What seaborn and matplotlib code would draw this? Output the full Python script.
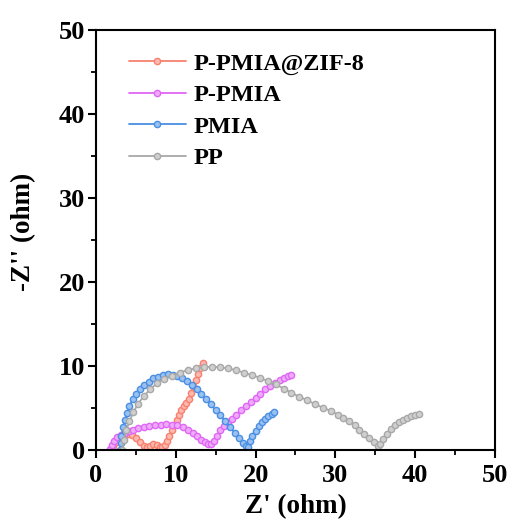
import numpy as np
import pandas as pd
import matplotlib
matplotlib.use("Agg")
import matplotlib.pyplot as plt
import seaborn as sns
from matplotlib.ticker import MultipleLocator

# Nyquist data: Z' (ohm) and -Z'' (ohm) for each separator
zif_x = [2.0, 2.2, 2.5, 2.8, 3.2, 3.6, 4.0, 4.5, 5.0, 5.5, 6.0, 6.4, 6.8, 7.2, 7.6, 8.0,
         8.3, 8.6, 8.9, 9.2, 9.5, 9.8, 10.1, 10.4, 10.7, 11.0, 11.3, 11.6, 11.9, 12.2,
         12.5, 12.8, 13.1, 13.4]
zif_y = [0.0, 0.5, 0.9, 1.3, 1.6, 1.8, 1.85, 1.75, 1.4, 0.9, 0.5, 0.3, 0.5, 0.7, 0.6, 0.35,
         0.3, 0.6, 1.0, 1.6, 2.3, 3.0, 3.6, 4.2, 4.7, 5.2, 5.6, 6.0, 6.8, 7.6,
         8.3, 9.0, 9.7, 10.4]

ppmia_x = [1.8, 2.0, 2.3, 2.7, 3.1, 3.6, 4.1, 4.7, 5.3, 6.0, 6.7, 7.4, 8.1, 8.8, 9.5, 10.2,
           10.9, 11.5, 12.1, 12.7, 13.2, 13.7, 14.1, 14.4, 14.8, 15.2, 15.6, 16.0, 16.5,
           17.0, 17.6, 18.2, 18.8, 19.4, 20.0, 20.6, 21.2, 21.8, 22.4, 23.0, 23.6, 24.1, 24.5]
ppmia_y = [0.1, 0.6, 1.1, 1.5, 1.8, 2.0, 2.2, 2.4, 2.6, 2.75, 2.85, 2.95, 3.0, 3.05, 3.0, 2.9,
           2.7, 2.4, 2.0, 1.6, 1.2, 0.9, 0.7, 0.7, 1.1, 1.7, 2.3, 2.8, 3.3,
           3.7, 4.2, 4.7, 5.2, 5.7, 6.2, 6.7, 7.2, 7.6, 8.0, 8.3, 8.6, 8.8, 8.9]

pmia_x = [3.0, 3.1, 3.2, 3.4, 3.6, 3.9, 4.2, 4.6, 5.0, 5.5, 6.0, 6.6, 7.2, 7.8, 8.4, 9.0,
          9.6, 10.2, 10.8, 11.4, 12.0, 12.6, 13.2, 13.8, 14.4, 15.0, 15.6, 16.2, 16.8,
          17.4, 17.9, 18.4, 18.8, 19.0, 19.3, 19.6, 20.0, 20.4, 20.8, 21.2, 21.6, 22.0, 22.3]
pmia_y = [0.0, 0.8, 1.7, 2.7, 3.5, 4.4, 5.2, 6.0, 6.6, 7.2, 7.7, 8.1, 8.5, 8.7, 8.9, 9.0,
          8.95, 8.8, 8.6, 8.2, 7.7, 7.2, 6.6, 6.0, 5.4, 4.7, 4.1, 3.4, 2.7,
          2.0, 1.4, 0.8, 0.4, 0.3, 1.0, 1.6, 2.2, 2.8, 3.3, 3.7, 4.0, 4.3, 4.5]

pp_x = [3.3, 3.5, 3.8, 4.2, 4.7, 5.3, 6.0, 6.8, 7.6, 8.5, 9.5, 10.5, 11.5, 12.5, 13.5, 14.5,
        15.5, 16.5, 17.5, 18.5, 19.5, 20.5, 21.5, 22.5, 23.5, 24.5, 25.5, 26.5, 27.5, 28.5,
        29.5, 30.3, 31.0, 31.7, 32.4, 33.0, 33.6, 34.2, 34.8, 35.3, 35.6, 36.0, 36.5, 37.0,
        37.5, 38.0, 38.5, 39.0, 39.5, 40.0, 40.5]
pp_y = [0.0, 1.2, 2.3, 3.4, 4.5, 5.5, 6.4, 7.2, 7.9, 8.4, 8.8, 9.2, 9.5, 9.7, 9.85, 9.9,
        9.85, 9.7, 9.5, 9.2, 8.9, 8.6, 8.2, 7.8, 7.3, 6.8, 6.3, 5.9, 5.4, 5.0,
        4.6, 4.2, 3.8, 3.4, 2.9, 2.4, 1.9, 1.4, 0.9, 0.5, 0.7, 1.3, 1.9, 2.5,
        2.9, 3.3, 3.6, 3.8, 4.0, 4.1, 4.3]

labels = ["P-PMIA@ZIF-8", "P-PMIA", "PMIA", "PP"]
colors = ["#F8806F", "#E066F5", "#4A8FE3", "#A8A8A8"]
series = [(zif_x, zif_y), (ppmia_x, ppmia_y), (pmia_x, pmia_y), (pp_x, pp_y)]

sns.set_style("white")
plt.rcParams["font.family"] = ["Liberation Serif", "DejaVu Serif"]
plt.rcParams["font.weight"] = "bold"
plt.rcParams["text.color"] = "black"
plt.rcParams["axes.labelcolor"] = "black"
plt.rcParams["xtick.color"] = "black"
plt.rcParams["ytick.color"] = "black"

fig = plt.figure(figsize=(5.13, 5.20), dpi=100)
ax = fig.add_axes([0.187, 0.135, 0.778, 0.807])

for lab, col, (xs, ys) in zip(labels, colors, series):
    df = pd.DataFrame({"x": xs, "y": ys})
    face = tuple(0.55 * np.array(matplotlib.colors.to_rgb(col)) + 0.45)
    sns.lineplot(data=df, x="x", y="y", sort=False, estimator=None, ax=ax,
                 color=col, label=lab, marker="o", markersize=4.5,
                 markerfacecolor=face, markeredgecolor=col, markeredgewidth=1.0,
                 linewidth=1.3)

ax.set_xlim(0, 50)
ax.set_ylim(0, 50)
ax.xaxis.set_major_locator(MultipleLocator(10))
ax.xaxis.set_minor_locator(MultipleLocator(5))
ax.yaxis.set_major_locator(MultipleLocator(10))
ax.yaxis.set_minor_locator(MultipleLocator(5))
ax.tick_params(which="major", direction="out", length=6, width=1.5,
               labelsize=19, bottom=True, left=True, top=False, right=False, pad=2)
ax.tick_params(axis="x", which="major", pad=4)
ax.tick_params(which="minor", direction="out", length=3.5, width=1.3,
               bottom=True, left=True, top=False, right=False)
for lbl in ax.get_xticklabels() + ax.get_yticklabels():
    lbl.set_fontweight("bold")
for sp in ax.spines.values():
    sp.set_linewidth(1.5)
    sp.set_color("black")

ax.set_xlabel("Z' (ohm)", fontsize=19.5, fontweight="bold", labelpad=5)
ax.set_ylabel("-Z'' (ohm)", fontsize=19.5, fontweight="bold")
ax.yaxis.set_label_coords(-0.15, 0.52)

leg = ax.legend(loc="upper left", bbox_to_anchor=(0.07, 0.958), frameon=False,
                prop={"family": "Liberation Serif", "weight": "bold", "size": 17.5},
                handlelength=2.35, handletextpad=0.3, labelspacing=0.39,
                borderaxespad=0.0, borderpad=0.2)
for t in leg.get_texts():
    t.set_color("black")

fig.savefig("out.png", dpi=100, facecolor="white")
